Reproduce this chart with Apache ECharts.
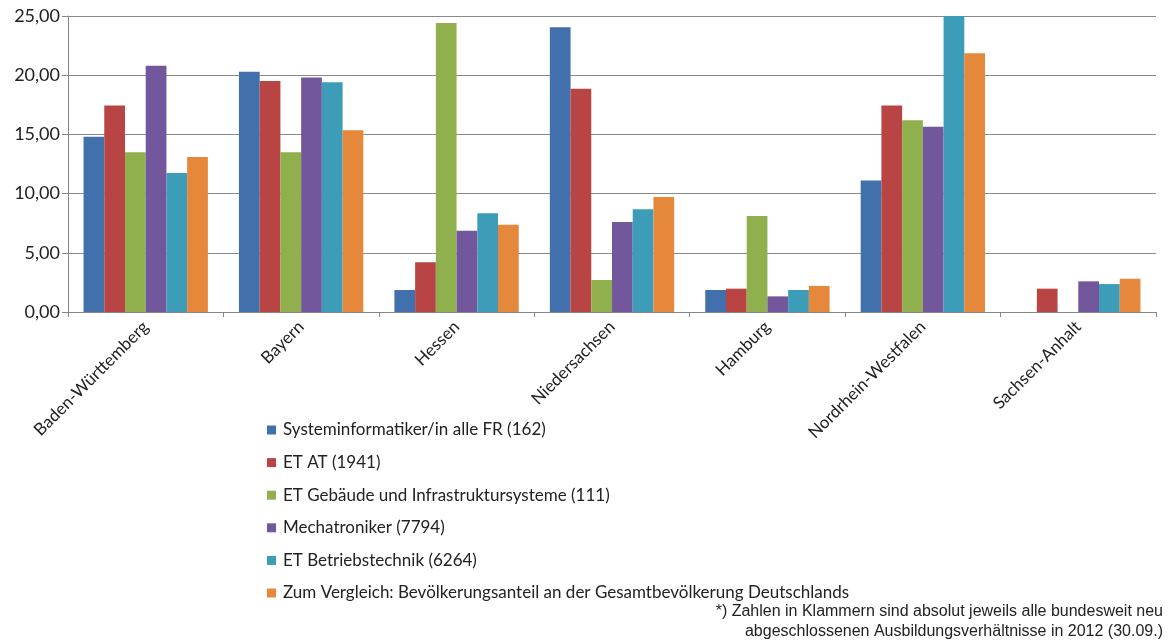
<!DOCTYPE html>
<html><head><meta charset="utf-8">
<script src="https://cdn.jsdelivr.net/npm/echarts@6/dist/echarts.min.js"></script>
<style>html,body{margin:0;padding:0;background:#fff}#c{width:1168px;height:643px}</style>
</head><body><div id="c"></div>
<script>
const categories = ['Baden-Württemberg','Bayern','Hessen','Niedersachsen','Hamburg','Nordrhein-Westfalen','Sachsen-Anhalt'];
const seriesNames = ['Systeminformatiker/in alle FR (162)','ET AT (1941)','ET Gebäude und Infrastruktursysteme (111)','Mechatroniker (7794)','ET Betriebstechnik (6264)','Zum Vergleich: Bevölkerungsanteil an der Gesamtbevölkerung Deutschlands'];
const systeminformatiker = [14.8, 20.3, 1.86, 24.05, 1.86, 11.1, null];
const etAT = [17.45, 19.5, 4.2, 18.86, 1.97, 17.45, 1.97];
const etGebaeude = [13.5, 13.5, 24.4, 2.7, 8.1, 16.2, null];
const mechatroniker = [20.8, 19.8, 6.87, 7.6, 1.32, 15.65, 2.59];
const etBetrieb = [11.75, 19.4, 8.33, 8.67, 1.86, 25.0, 2.36];
const bevoelkerung = [13.1, 15.35, 7.37, 9.71, 2.2, 21.85, 2.81];
const yTicks = [0, 5, 10, 15, 20, 25];
const footnote1 = '*) Zahlen in Klammern sind absolut jeweils alle bundesweit neu';
const footnote2 = 'abgeschlossenen Ausbildungsverhältnisse in 2012 (30.09.)';

const colors = ['#4170ad','#b84543','#8fb04c','#73579c','#3d9db9','#e6883b'];
const allData = [systeminformatiker, etAT, etGebaeude, mechatroniker, etBetrieb, bevoelkerung];
const font = 'Lato, "Open Sans", sans-serif';

const chart = echarts.init(document.getElementById('c'), null, {renderer:'canvas'});
chart.setOption({
  animation: false,
  color: colors,
  grid: {left: 68, right: 12, top: 16, bottom: 331, containLabel: false},
  legend: {
    orient: 'vertical', left: 262, top: 416,
    itemWidth: 9, itemHeight: 9, itemGap: 14.6,
    icon: 'rect',
    textStyle: {fontFamily: font, fontSize: 17, color: '#222', lineHeight: 18, padding: [0,0,0,2]},
    data: seriesNames
  },
  xAxis: {
    type: 'category', data: categories,
    axisLine: {lineStyle: {color: '#868686', width: 1}},
    axisTick: {show: true, length: 5, lineStyle: {color: '#868686'}},
    axisLabel: {rotate: 45, margin: 12, fontFamily: font, fontSize: 17, color: '#222'}
  },
  yAxis: {
    type: 'value', min: yTicks[0], max: yTicks[yTicks.length-1], interval: 5,
    axisLine: {show: true, lineStyle: {color: '#868686'}},
    axisTick: {show: true, length: 6, lineStyle: {color: '#868686'}},
    splitLine: {lineStyle: {color: '#8a8a8a', width: 1}},
    axisLabel: {margin: 8, fontFamily: font, fontSize: 18, color: '#222',
      formatter: v => v.toFixed(2).replace('.', ',')}
  },
  graphic: [
    {type: 'text', right: 5, top: 604, style: {text: footnote1, font: '16px "Liberation Sans Narrow", "Liberation Sans", sans-serif', fill: '#222', textAlign: 'right'}},
    {type: 'text', right: 5, top: 624, style: {text: footnote2, font: '16px "Liberation Sans Narrow", "Liberation Sans", sans-serif', fill: '#222', textAlign: 'right'}}
  ],
  series: seriesNames.map((n, i) => ({
    name: n, type: 'bar', data: allData[i],
    barGap: '0%', barCategoryGap: '20%'
  }))
});
</script></body></html>
